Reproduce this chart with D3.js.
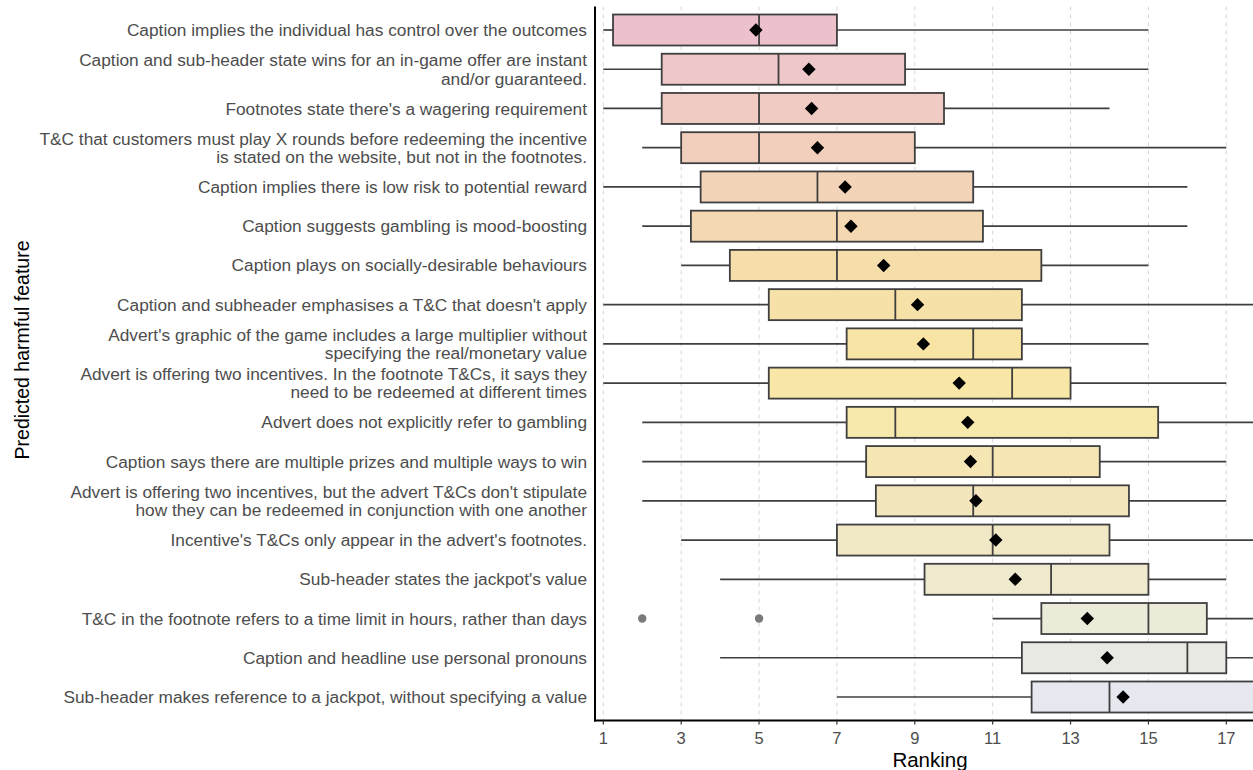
<!DOCTYPE html>
<html>
<head>
<meta charset="utf-8">
<script src="https://cdn.jsdelivr.net/npm/d3@7"></script>
<style>
  html, body { margin: 0; padding: 0; background: #fff; }
  svg { display: block; font-family: "Liberation Sans", Arial, sans-serif; }
</style>
</head>
<body>
<svg id="chart" width="1253" height="770"></svg>
<script>
// Predicted harmful features, ordered by ranking
const categories = [
  ["Caption implies the individual has control over the outcomes"],
  ["Caption and sub-header state wins for an in-game offer are instant", "and/or guaranteed."],
  ["Footnotes state there's a wagering requirement"],
  ["T&C that customers must play X rounds before redeeming the incentive", "is stated on the website, but not in the footnotes."],
  ["Caption implies there is low risk to potential reward"],
  ["Caption suggests gambling is mood-boosting"],
  ["Caption plays on socially-desirable behaviours"],
  ["Caption and subheader emphasises a T&C that doesn't apply"],
  ["Advert's graphic of the game includes a large multiplier without", "specifying the real/monetary value"],
  ["Advert is offering two incentives. In the footnote T&Cs, it says they", "need to be redeemed at different times"],
  ["Advert does not explicitly refer to gambling"],
  ["Caption says there are multiple prizes and multiple ways to win"],
  ["Advert is offering two incentives, but the advert T&Cs don't stipulate", "how they can be redeemed in conjunction with one another"],
  ["Incentive's T&Cs only appear in the advert's footnotes."],
  ["Sub-header states the jackpot's value"],
  ["T&C in the footnote refers to a time limit in hours, rather than days"],
  ["Caption and headline use personal pronouns"],
  ["Sub-header makes reference to a jackpot, without specifying a value"]
];

// Box-plot statistics per feature (same order as categories)
const whiskerLow  = [1, 1, 1, 2, 1, 2, 3, 1, 1, 1, 2, 2, 2, 3, 4, 11, 4, 7];
const q1          = [1.25, 2.5, 2.5, 3, 3.5, 3.25, 4.25, 5.25, 7.25, 5.25, 7.25, 7.75, 8, 7, 9.25, 12.25, 11.75, 12];
const medians     = [5, 5.5, 5, 5, 6.5, 7, 7, 8.5, 10.5, 11.5, 8.5, 11, 10.5, 11, 12.5, 15, 16, 14];
const q3          = [7, 8.75, 9.75, 9, 10.5, 10.75, 12.25, 11.75, 11.75, 13, 15.25, 13.75, 14.5, 14, 15, 16.5, 17, 18];
const whiskerHigh = [15, 15, 14, 17, 16, 16, 15, 18, 15, 17, 18, 17, 17, 18, 17, 18, 18, 18];
const means       = [4.92, 6.28, 6.35, 6.5, 7.21, 7.36, 8.2, 9.07, 9.22, 10.14, 10.36, 10.43, 10.57, 11.08, 11.58, 13.43, 13.94, 14.35];
// Outlying rankings: [feature index, ranking]
const outliers    = [[15, 2], [15, 5]];

const fills = [
  "#ecc1cb", "#eec7c8", "#f0cbc3", "#f2cfbc", "#f3d4b8", "#f4d8b2",
  "#f6deab", "#f6e1a8", "#f8e5a5", "#f8e7a7", "#f7e8ab", "#f5e6b3",
  "#f3e6bd", "#f1e8c5", "#efe9cd", "#ecead9", "#e9e9e3", "#e5e8ef"
];

const xTicks = [1, 3, 5, 7, 9, 11, 13, 15, 17];

const svg = d3.select("#chart");
const W = 1253, H = 770;
const panel = { left: 595, top: 6.5, bottom: 720.5 };

const x = d3.scaleLinear().domain([1, 17]).range([603.3, 1226.3]);
const y = d3.scalePoint()
  .domain(d3.range(categories.length))
  .range([30, 697]);

const boxH = 31;
const ink = "#3f3f3f";

// Dashed vertical grid
svg.append("g")
  .selectAll("line")
  .data(xTicks)
  .join("line")
  .attr("x1", d => x(d)).attr("x2", d => x(d))
  .attr("y1", panel.top).attr("y2", panel.bottom)
  .attr("stroke", "#d6d6d6")
  .attr("stroke-width", 1)
  .attr("stroke-dasharray", "4,4");

const rows = svg.append("g")
  .selectAll("g")
  .data(d3.range(categories.length))
  .join("g")
  .attr("transform", i => `translate(0,${y(i)})`);

// Whiskers
rows.append("line")
  .attr("x1", i => x(whiskerLow[i])).attr("x2", i => x(q1[i]))
  .attr("stroke", ink).attr("stroke-width", 1.7);
rows.append("line")
  .attr("x1", i => x(q3[i])).attr("x2", i => x(whiskerHigh[i]))
  .attr("stroke", ink).attr("stroke-width", 1.7);

// Boxes
rows.append("rect")
  .attr("x", i => x(q1[i]))
  .attr("y", -boxH / 2)
  .attr("width", i => x(q3[i]) - x(q1[i]))
  .attr("height", boxH)
  .attr("fill", (i) => fills[i])
  .attr("stroke", ink)
  .attr("stroke-width", 1.8);

// Medians
rows.append("line")
  .attr("x1", i => x(medians[i])).attr("x2", i => x(medians[i]))
  .attr("y1", -boxH / 2).attr("y2", boxH / 2)
  .attr("stroke", ink).attr("stroke-width", 1.8);

// Means (diamonds)
rows.append("path")
  .attr("d", d3.symbol().type(d3.symbolDiamond2).size(115))
  .attr("transform", i => `translate(${x(means[i])},0)`)
  .attr("fill", "#000");

// Outliers
svg.append("g")
  .selectAll("circle")
  .data(outliers)
  .join("circle")
  .attr("cx", d => x(d[1]))
  .attr("cy", d => y(d[0]))
  .attr("r", 4.2)
  .attr("fill", "#7a7a7a");

// Category labels
const labels = svg.append("g")
  .selectAll("text")
  .data(d3.range(categories.length))
  .join("text")
  .attr("text-anchor", "end")
  .attr("fill", "#4d4d4d")
  .attr("font-size", 17.3);
labels.each(function (i) {
  const lines = categories[i];
  const lh = 18.5;
  const t = d3.select(this);
  lines.forEach((s, k) => {
    t.append("tspan")
      .attr("x", 587)
      .attr("y", y(i) + (k - (lines.length - 1) / 2) * lh)
      .attr("dy", "0.35em")
      .text(s);
  });
});

// Axis lines
svg.append("line")
  .attr("x1", panel.left).attr("x2", panel.left)
  .attr("y1", panel.top).attr("y2", panel.bottom + 1)
  .attr("stroke", "#000").attr("stroke-width", 2);
svg.append("line")
  .attr("x1", panel.left - 1).attr("x2", W)
  .attr("y1", panel.bottom).attr("y2", panel.bottom)
  .attr("stroke", "#000").attr("stroke-width", 2);

// X ticks
const xt = svg.append("g")
  .selectAll("g")
  .data(xTicks)
  .join("g")
  .attr("transform", d => `translate(${x(d)},${panel.bottom})`);
xt.append("line").attr("y1", 0).attr("y2", 4).attr("stroke", "#333").attr("stroke-width", 1.2);
xt.append("text")
  .attr("y", 18)
  .attr("dy", "0.35em")
  .attr("text-anchor", "middle")
  .attr("fill", "#4d4d4d")
  .attr("font-size", 16.5)
  .text(d => d);

// Axis titles
svg.append("text")
  .attr("x", 930).attr("y", 760)
  .attr("dy", "0.35em")
  .attr("text-anchor", "middle")
  .attr("font-size", 20.5)
  .attr("fill", "#000")
  .text("Ranking");
svg.append("text")
  .attr("transform", "translate(22,350) rotate(-90)")
  .attr("dy", "0.35em")
  .attr("text-anchor", "middle")
  .attr("font-size", 19.5)
  .attr("fill", "#000")
  .text("Predicted harmful feature");
</script>
</body>
</html>
